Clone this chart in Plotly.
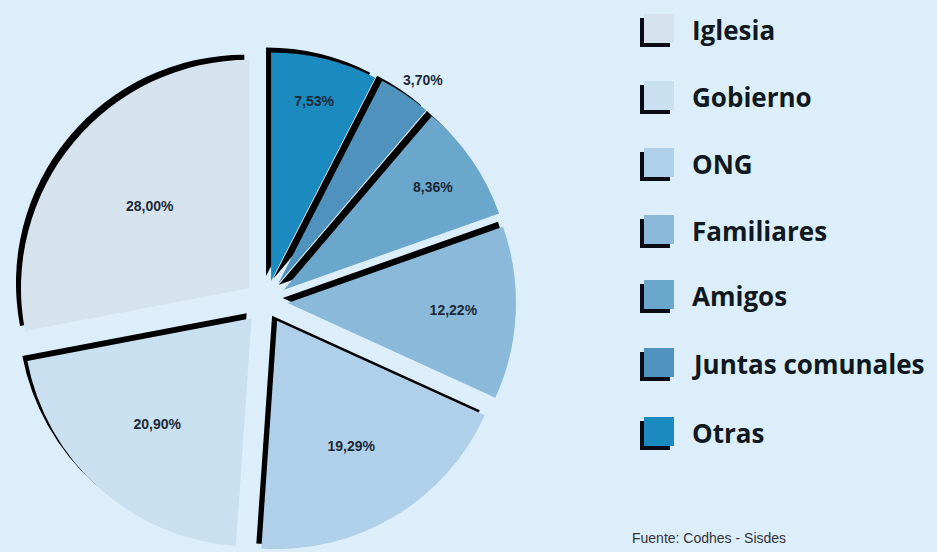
import plotly.graph_objects as go

labels = ["Iglesia", "Gobierno", "ONG", "Familiares", "Amigos", "Juntas comunales", "Otras"]
values = [28.00, 20.90, 19.29, 12.22, 8.36, 3.70, 7.53]
text_labels = ["28,00%", "20,90%", "19,29%", "12,22%", "8,36%", "", "7,53%"]
colors = ["#d6e3ec", "#c8e0f0", "#afd0e8", "#8ab9d9", "#6ba7cc", "#4e92bd", "#1a8abf"]
source = "Fuente: Codhes - Sisdes"

W, H = 937, 552
BG = "#ddeefb"
pull = 0.095

cx, cy_top = 266, 302
half = 250
dx = [(cx - half) / W, (cx + half) / W]
dy = [0, 2 * (H - cy_top) / H]
sh_x, sh_y = 5, 5
dx_s = [(cx - sh_x - half) / W, (cx - sh_x + half) / W]
dy_s = [dy[0] + sh_y / H, dy[1] + sh_y / H]

# pie drawn clockwise from 12 o'clock, starting with the last category
p_labels = labels[::-1]
p_values = values[::-1]
p_text = text_labels[::-1]
p_colors = colors[::-1]

fig = go.Figure()
fig.add_trace(go.Pie(
    labels=p_labels, values=p_values, sort=False, direction="clockwise", rotation=0,
    pull=[pull] * len(p_values), marker=dict(colors=["#000000"] * len(p_values), line=dict(width=0)),
    textinfo="none", hoverinfo="skip", showlegend=False, domain=dict(x=dx_s, y=dy_s),
))
fig.add_trace(go.Pie(
    labels=p_labels, values=p_values, sort=False, direction="clockwise", rotation=0,
    pull=[pull] * len(p_values), marker=dict(colors=p_colors, line=dict(width=0)),
    text=p_text, textinfo="text", textposition="inside", insidetextorientation="horizontal",
    textfont=dict(family="Liberation Sans", size=14, color="#1a2a3a", weight="bold"),
    showlegend=False, domain=dict(x=dx, y=dy),
))

# label of the small slice, placed outside it
fig.add_annotation(x=423, y=80, xref="x", yref="y", text="3,70%", showarrow=False,
                   font=dict(family="Liberation Sans", size=14, color="#1a2a3a", weight="bold"))

# manual legend
ys = [30, 97, 164, 231, 296, 364, 433]
shapes = []
for yc, col, lab in zip(ys, colors, labels):
    shapes.append(dict(type="rect", x0=644, x1=674, y0=yc - 16, y1=yc + 13, xref="x", yref="y",
                       fillcolor=col, line=dict(width=0), layer="above"))
    shapes.append(dict(type="rect", x0=640, x1=644, y0=yc - 12, y1=yc + 17, xref="x", yref="y",
                       fillcolor="#0a0a14", line=dict(width=0), layer="above"))
    shapes.append(dict(type="rect", x0=640, x1=670, y0=yc + 13, y1=yc + 17, xref="x", yref="y",
                       fillcolor="#0a0a14", line=dict(width=0), layer="above"))
    fig.add_annotation(x=690, y=yc, xref="x", yref="y", text=lab, showarrow=False, xanchor="left",
                       yanchor="middle",
                       font=dict(family="Open Sans", size=26, color="#101820", weight="bold"))

fig.add_annotation(x=630, y=538, xref="x", yref="y", text=source, showarrow=False, xanchor="left",
                   yanchor="middle", font=dict(family="Liberation Sans", size=14, color="#333333"))

fig.update_layout(
    width=W, height=H, margin=dict(l=0, r=0, t=0, b=0),
    paper_bgcolor=BG, plot_bgcolor="rgba(0,0,0,0)", shapes=shapes,
    xaxis=dict(range=[0, W], visible=False, fixedrange=True),
    yaxis=dict(range=[H, 0], visible=False, fixedrange=True),
)
fig.write_html("out.html", config={"displayModeBar": False},
               post_script="document.body.style.margin='0';document.body.style.background='%s';" % BG)
